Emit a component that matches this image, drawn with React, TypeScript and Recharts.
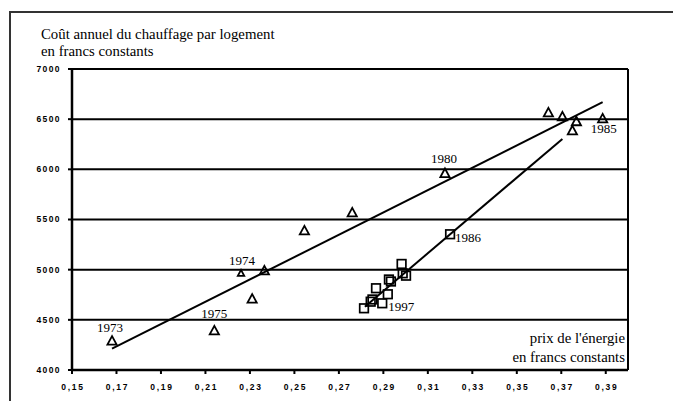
import React from "react";
import { ScatterChart, Scatter, XAxis, YAxis, CartesianGrid, ReferenceLine } from "recharts";

// 1973-1985 : triangles
const yearsA = [1973, 1974, 1975, 1976, 1977, 1978, 1979, 1980, 1981, 1982, 1983, 1984, 1985];
const priceA = [0.168, 0.226, 0.214, 0.231, 0.2365, 0.2545, 0.276, 0.3177, 0.3642, 0.3705, 0.3768, 0.375, 0.3886];
const costA = [4290, 4964, 4392, 4708, 4990, 5389, 5568, 5960, 6565, 6525, 6476, 6386, 6505];

// 1986-1997 : carrés
const yearsB = [1986, 1987, 1988, 1989, 1990, 1991, 1992, 1993, 1994, 1995, 1996, 1997];
const priceB = [0.32, 0.2982, 0.3002, 0.2987, 0.2925, 0.2934, 0.2867, 0.292, 0.2851, 0.2843, 0.2813, 0.2895];
const costB = [5353, 5057, 4940, 4964, 4902, 4882, 4815, 4755, 4703, 4681, 4615, 4665];

// droites d'ajustement (extrémités)
const trendA = [{ x: 0.168, y: 4212 }, { x: 0.3886, y: 6669 }];
const trendB = [{ x: 0.2817, y: 4631 }, { x: 0.3705, y: 6303 }];

const xTicks = [0.15, 0.17, 0.19, 0.21, 0.23, 0.25, 0.27, 0.29, 0.31, 0.33, 0.35, 0.37, 0.39];
const yTicks = [4000, 4500, 5000, 5500, 6000, 6500, 7000];

const labelled: Record<number, { dx: number; dy: number; anchor: string }> = {
  1973: { dx: -2, dy: -9, anchor: "middle" },
  1974: { dx: 1, dy: -8, anchor: "middle" },
  1975: { dx: 0, dy: -13, anchor: "middle" },
  1980: { dx: -1, dy: -10, anchor: "middle" },
  1985: { dx: 1, dy: 14, anchor: "middle" },
  1986: { dx: 5, dy: 8, anchor: "start" },
  1997: { dx: 6, dy: 8, anchor: "start" },
};
const smallMarks = new Set([1974]);

const dataA = yearsA.map((year, i) => ({ year, x: priceA[i], y: costA[i] }));
const dataB = yearsB.map((year, i) => ({ year, x: priceB[i], y: costB[i] }));

const serif = "'Liberation Serif', 'Times New Roman', serif";
const sans = "'Liberation Sans', Arial, sans-serif";

const YearLabel = ({ cx, cy, year }: any) => {
  const l = labelled[year];
  if (!l) return null;
  return (
    <text x={cx + l.dx} y={cy + l.dy} textAnchor={l.anchor} fontFamily={serif} fontSize={13} fill="#000">
      {year}
    </text>
  );
};

const Triangle = (props: any) => {
  const { cx, cy, payload } = props;
  const s = smallMarks.has(payload.year) ? 3.2 : 4.6;
  const pts = `${cx},${cy - s * 1.05} ${cx - s},${cy + s * 0.8} ${cx + s},${cy + s * 0.8}`;
  return (
    <g>
      <polygon points={pts} fill="none" stroke="#000" strokeWidth={1.8} strokeLinejoin="miter" />
      <YearLabel cx={cx} cy={cy} year={payload.year} />
    </g>
  );
};

const Square = (props: any) => {
  const { cx, cy, payload } = props;
  return (
    <g>
      <rect x={cx - 4.3} y={cy - 4.3} width={8.6} height={8.6} fill="none" stroke="#000" strokeWidth={1.7} />
      <YearLabel cx={cx} cy={cy} year={payload.year} />
    </g>
  );
};

const fmt = (v: number) => v.toFixed(2).replace(".", ",");

const XTick = ({ x, y, payload }: any) => (
  <text x={x + 1} y={y} dy="0.71em" textAnchor="middle" fontFamily={sans} fontSize={8.5} fontWeight={700} letterSpacing={1.7} fill="#000">
    {fmt(payload.value)}
  </text>
);

const YTick = ({ x, y, payload }: any) => (
  <text x={x} y={y} dy="0.35em" textAnchor="end" fontFamily={sans} fontSize={8.5} fontWeight={700} letterSpacing={1.4} fill="#000">
    {payload.value}
  </text>
);

export default function App() {
  return (
    <div style={{ position: "absolute", left: 0, top: 0, width: 673, height: 401, background: "#fff", overflow: "hidden" }}>
      <div style={{ position: "absolute", left: 9, top: 11, width: 700, height: 420, borderTop: "2px solid #333", borderLeft: "2px solid #333" }} />
      <ScatterChart width={673} height={401} margin={{ top: 69, right: 45, bottom: 0, left: 10 }} style={{ position: "absolute", left: 0, top: 0 }}>
        <CartesianGrid vertical={false} stroke="#000" strokeWidth={2} horizontalValues={yTicks} />
        <XAxis
          type="number"
          dataKey="x"
          domain={[0.15, 0.4]}
          ticks={xTicks}
          interval={0}
          height={31}
          tickSize={4}
          tickMargin={10}
          tick={<XTick />}
          axisLine={{ stroke: "#000", strokeWidth: 2.5 }}
          tickLine={{ stroke: "#000", strokeWidth: 2 }}
          allowDataOverflow
        />
        <YAxis
          type="number"
          dataKey="y"
          domain={[4000, 7000]}
          ticks={yTicks}
          interval={0}
          width={62}
          tickSize={4}
          tickMargin={7}
          tick={<YTick />}
          axisLine={{ stroke: "#000", strokeWidth: 2.5 }}
          tickLine={{ stroke: "#000", strokeWidth: 2 }}
          allowDataOverflow
        />
        <ReferenceLine x={0.4} stroke="#000" strokeWidth={2} />
        <ReferenceLine segment={trendA} stroke="#000" strokeWidth={2} />
        <ReferenceLine segment={trendB} stroke="#000" strokeWidth={2} />
        <Scatter data={dataA} shape={<Triangle />} isAnimationActive={false} />
        <Scatter data={dataB} shape={<Square />} isAnimationActive={false} />
        <text x={41} y={39} fontFamily={serif} fontSize={14.8} fill="#000">Coût annuel du chauffage par logement</text>
        <text x={41} y={56} fontFamily={serif} fontSize={14.8} fill="#000">en francs constants</text>
        <text x={625} y={343} textAnchor="end" fontFamily={serif} fontSize={14.8} fill="#000">prix de l'énergie</text>
        <text x={625} y={362} textAnchor="end" fontFamily={serif} fontSize={14.8} fill="#000">en francs constants</text>
      </ScatterChart>
    </div>
  );
}
